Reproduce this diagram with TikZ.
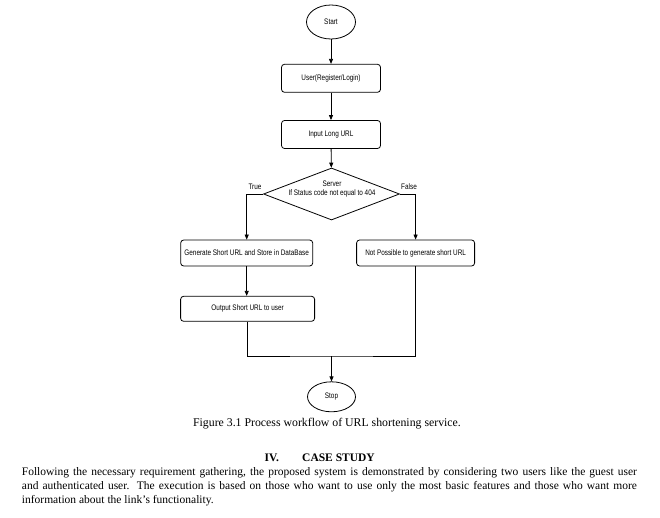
\documentclass[tikz,border=0pt]{standalone}
\usepackage{fontspec}
\setmainfont{Liberation Serif}
\newfontfamily\nar[FakeStretch=0.8]{Liberation Sans}
\usetikzlibrary{shapes.geometric,arrows.meta}
\begin{document}
\begin{tikzpicture}[x=1pt,y=-1pt,
  lw/.style={line width=0.8pt},
  boxtext/.style={font=\nar\fontsize{8}{9.5}\selectfont},
  box/.style={draw,lw,rounded corners=3pt,inner sep=0pt,boxtext},
  oval/.style={draw,lw,ellipse,inner sep=0pt,boxtext},
  decision/.style={draw,lw,diamond,inner sep=0pt,minimum width=136pt,minimum height=52pt},
  arr/.style={lw,-{Triangle[length=5pt,width=4pt]}},
  line/.style={lw},
  body/.style={inner sep=0pt,anchor=base west,font=\fontsize{11.5}{14}\selectfont}
]
\useasboundingbox (0,0) rectangle (660,518);

\node[oval,minimum width=49pt,minimum height=34pt] (start) at (331,22) {Start};
\node[box,minimum width=99pt,minimum height=28pt] (user) at (331,78.3) {User(Register/Login)};
\node[box,minimum width=99pt,minimum height=28pt] (input) at (331,134.5) {Input Long URL};
\node[decision] (dec) at (331.5,194) {};
\node[boxtext,align=center,inner sep=0pt] (dectext) at (332,189.5) {Server\\[-0.5pt]If Status code not equal to 404};
\node[boxtext,inner sep=0pt] (truelbl) at (255,187) {True};
\node[boxtext,inner sep=0pt] (falselbl) at (409,187) {False};
\node[box,minimum width=132pt,minimum height=26pt] (gen) at (246.7,253) {Generate Short URL and Store in DataBase};
\node[box,minimum width=118pt,minimum height=26pt] (np) at (415.6,253) {Not Possible to generate short URL};
\node[box,minimum width=134pt,minimum height=25pt] (out) at (247.6,308.8) {Output Short URL to user};
\node[oval,minimum width=48pt,minimum height=30pt] (stop) at (331.5,396.8) {Stop};
\coordinate (join) at (331.5,356);

\draw[arr] (start) -- (user);
\draw[arr] (user) -- (input);
\draw[arr] (input) -- (dec);
\draw[arr] (dec.west) -| (gen.north);
\draw[arr] (dec.east) -| (np.north);
\draw[arr] (gen.south) -- (gen.south |- out.north);
\draw[line] (out.south) |- (join) -| (np.south);
\draw[arr] (join) -- (stop);

\node[inner sep=0pt,font=\fontsize{11.8}{14}\selectfont] (caption) at (327,423.5) {Figure 3.1 Process workflow of URL shortening service.};
\node[inner sep=0pt,anchor=base west,font=\bfseries\fontsize{11.5}{14}\selectfont] (secnum) at (264.5,461.5) {IV.};
\node[inner sep=0pt,anchor=base west,font=\bfseries\fontsize{11.5}{14}\selectfont] (sectitle) at (302,461.5) {CASE STUDY};
\node[body] (p1) at (21.7,475) {\makebox[615pt][s]{Following the necessary requirement gathering, the proposed system is demonstrated by considering two users like the guest user}};
\node[body] (p2) at (21.7,489) {\makebox[615pt][s]{and authenticated user. The execution is based on those who want to use only the most basic features and those who want more}};
\node[body] (p3) at (21.7,503) {information about the link’s functionality.};
\end{tikzpicture}
\end{document}
